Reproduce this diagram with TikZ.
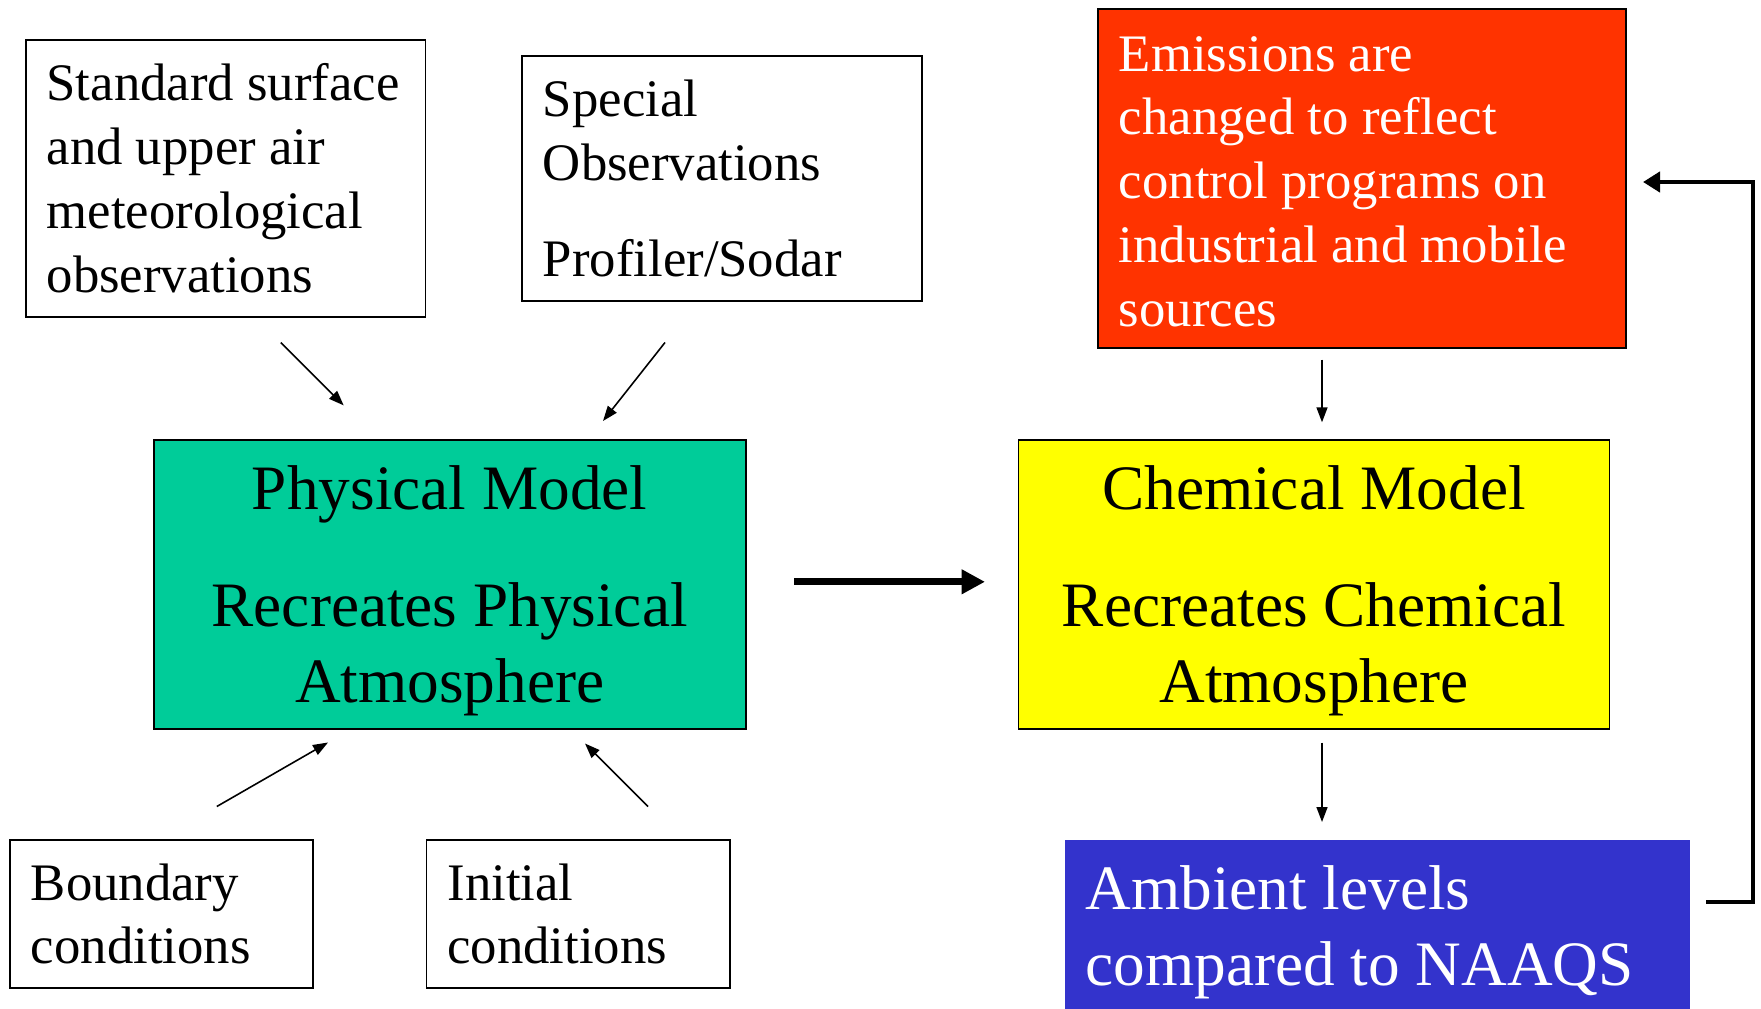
\documentclass[tikz,border=0pt]{standalone}
\usepackage{fontspec}
\setmainfont{Liberation Serif}
\usetikzlibrary{arrows.meta}

\definecolor{physgreen}{HTML}{00CC99}
\definecolor{chemyellow}{HTML}{FFFF00}
\definecolor{emisred}{HTML}{FF3300}
\definecolor{ambblue}{HTML}{3333CC}

\begin{document}
\begin{tikzpicture}[
  obsbox/.style={draw, line width=1.1pt, anchor=north west, inner xsep=0.42cm, inner ysep=0pt,
    align=flush left, font=\fontsize{30}{36.4}\selectfont},
  modelbox/.style={draw, line width=1.1pt, anchor=north west, inner xsep=0.42cm, inner ysep=0pt,
    align=flush center, font=\fontsize{36}{43.2}\selectfont},
  thinarrow/.style={-{Triangle[length=0.3cm,width=0.22cm]}, line width=0.9pt},
  thickarrow/.style={-{Triangle[length=0.47cm,width=0.47cm]}, line width=4.2pt},
  fbarrow/.style={-{Triangle[length=0.34cm,width=0.4cm]}, line width=2.8pt, line join=miter}]

\useasboundingbox (0,0) rectangle (35.22,-20.18);

% input boxes
\node [obsbox, text width=7.156cm, minimum height=5.526cm] (std) at (0.494,-0.786)
  {Standard surface\\ and upper air\\ meteorological\\ observations};
\node [obsbox, text width=7.16cm, minimum height=4.9cm] (special) at (10.42,-1.10)
  {Special\\ Observations\\[0.63cm] Profiler/Sodar};
\node [obsbox, text width=5.22cm, minimum height=2.96cm] (bound) at (0.18,-16.78)
  {Boundary\\ conditions};
\node [obsbox, text width=5.23cm, minimum height=2.96cm] (init) at (8.51,-16.78)
  {Initial\\ conditions};

% models
\node [modelbox, fill=physgreen, text width=11.0cm, minimum height=5.776cm] (phys) at (3.054,-8.78)
  {\rule{0pt}{1.15cm}Physical Model\\[0.82cm] Recreates Physical\\ Atmosphere};
\node [modelbox, fill=chemyellow, text width=10.98cm, minimum height=5.776cm] (chem) at (20.35,-8.78)
  {\rule{0pt}{1.15cm}Chemical Model\\[0.82cm] Recreates Chemical\\ Atmosphere};

% emissions and ambient levels
\node [obsbox, fill=emisred, text=white, text width=9.72cm, minimum height=6.78cm] (emis) at (21.94,-0.16)
  {\rule{0pt}{0.83cm}Emissions are\\ changed to reflect\\ control programs on\\ industrial and mobile\\ sources};
\node [obsbox, draw=none, fill=ambblue, text=white, text width=11.69cm, inner xsep=0.4cm, inner ysep=0.52cm,
  font=\fontsize{36}{43.2}\selectfont] (amb) at (21.29,-16.78)
  {Ambient levels\\ compared to NAAQS};

% arrow ends
\coordinate [] (s1) at (5.616,-6.85);
\coordinate [] (e1) at (6.874,-8.108);
\coordinate [] (s2) at (13.30,-6.85);
\coordinate [] (e2) at (12.06,-8.42);
\coordinate [] (s3) at (4.336,-16.13);
\coordinate [] (e3) at (6.56,-14.85);
\coordinate [] (s4) at (12.96,-16.13);
\coordinate [] (e4) at (11.70,-14.87);
\coordinate [] (s5) at (15.88,-11.636);
\coordinate [] (e5) at (19.70,-11.636);
\coordinate [] (s6) at (26.44,-7.19);
\coordinate [] (e6) at (26.44,-8.446);
\coordinate [] (s7) at (26.44,-14.85);
\coordinate [] (e7) at (26.44,-16.44);
\coordinate [] (fb0) at (34.12,-18.04);
\coordinate [] (fbtop) at (35.06,-3.64);
\coordinate [] (fbend) at (32.86,-3.64);

\draw [thinarrow] (s1) -- (e1);
\draw [thinarrow] (s2) -- (e2);
\draw [thinarrow] (s3) -- (e3);
\draw [thinarrow] (s4) -- (e4);
\draw [thickarrow] (s5) -- (e5);
\draw [thinarrow] (s6) -- (e6);
\draw [thinarrow] (s7) -- (e7);
\draw [fbarrow] (fb0) -| (fbtop) -- (fbend);

\end{tikzpicture}
\end{document}
